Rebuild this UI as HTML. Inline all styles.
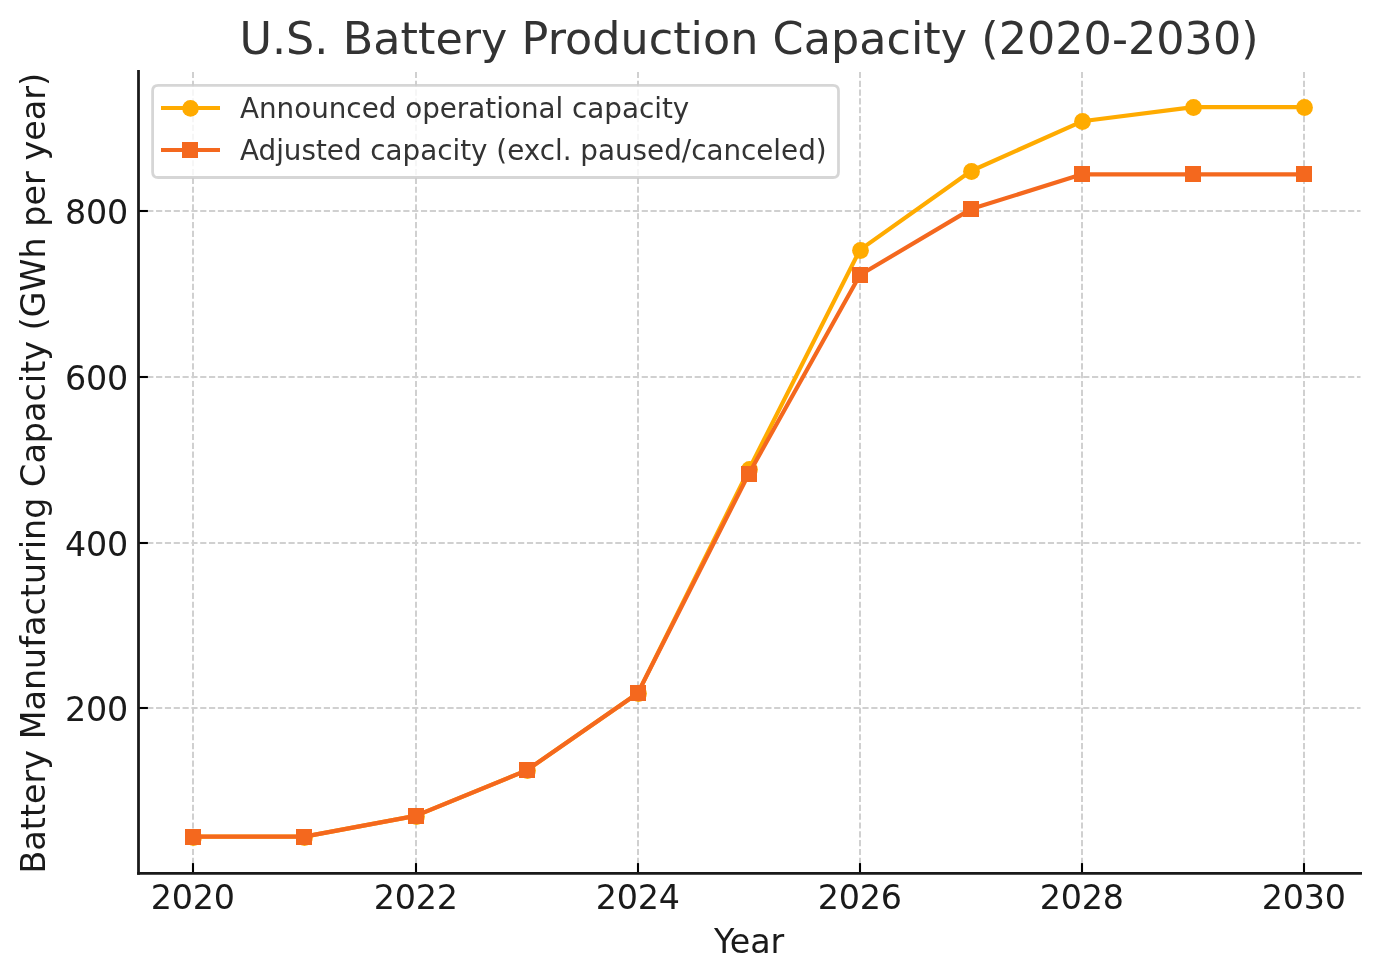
<!DOCTYPE html>
<html lang="en">
<head>
<meta charset="utf-8">
<title>U.S. Battery Production Capacity (2020-2030)</title>
<style>
html,body{margin:0;padding:0;background:#fff;}
body{width:1380px;height:980px;overflow:hidden;}
svg{display:block;}
text{font-family:"DejaVu Sans","Liberation Sans",sans-serif;}
.tick{font-size:33.33px;fill:#1a1a1a;letter-spacing:-0.15px;}
.lab{font-size:33.33px;fill:#1a1a1a;letter-spacing:-0.12px;}
.title{font-size:44.44px;fill:#333333;letter-spacing:0.04px;}
.leg{font-size:27.78px;fill:#333333;}
</style>
</head>
<body>
<svg width="1380" height="980" viewBox="0 0 1380 980">
<rect width="1380" height="980" fill="#ffffff"/>
<g stroke="#d0d0d0" stroke-width="2" stroke-dasharray="6.17 2.66" fill="none">
<line x1="193" y1="872.75" x2="193" y2="71.4"/>
<line x1="416" y1="872.75" x2="416" y2="71.4"/>
<line x1="638" y1="872.75" x2="638" y2="71.4"/>
<line x1="860" y1="872.75" x2="860" y2="71.4"/>
<line x1="1082" y1="872.75" x2="1082" y2="71.4"/>
<line x1="1304" y1="872.75" x2="1304" y2="71.4"/>
<line x1="138.4" y1="708" x2="1360.5" y2="708"/>
<line x1="138.4" y1="543" x2="1360.5" y2="543"/>
<line x1="138.4" y1="377" x2="1360.5" y2="377"/>
<line x1="138.4" y1="211" x2="1360.5" y2="211"/>
</g>
<polyline points="193.35,836.61 304.45,836.61 415.55,815.90 526.65,770.34 637.75,693.31 748.85,469.67 859.95,249.84 971.05,170.98 1082.15,121.29 1193.25,107.12 1304.35,107.12" fill="none" stroke="#ffab00" stroke-width="4.17" stroke-linejoin="round" stroke-linecap="butt"/>
<circle cx="193.5" cy="837.5" r="8.4" fill="#ffab00"/>
<circle cx="304.5" cy="837.5" r="8.4" fill="#ffab00"/>
<circle cx="416.5" cy="816.5" r="8.4" fill="#ffab00"/>
<circle cx="527.5" cy="770.5" r="8.4" fill="#ffab00"/>
<circle cx="638.5" cy="693.5" r="8.4" fill="#ffab00"/>
<circle cx="749.5" cy="469.5" r="8.4" fill="#ffab00"/>
<circle cx="860.5" cy="250.5" r="8.4" fill="#ffab00"/>
<circle cx="971.5" cy="171.5" r="8.4" fill="#ffab00"/>
<circle cx="1082.5" cy="121.5" r="8.4" fill="#ffab00"/>
<circle cx="1193.5" cy="107.5" r="8.4" fill="#ffab00"/>
<circle cx="1304.5" cy="107.5" r="8.4" fill="#ffab00"/>
<polyline points="193.35,836.61 304.45,836.61 415.55,815.90 526.65,770.34 637.75,693.31 748.85,473.81 859.95,275.02 971.05,209.09 1082.15,174.30 1193.25,174.30 1304.35,174.30" fill="none" stroke="#f4681e" stroke-width="4.17" stroke-linejoin="round" stroke-linecap="butt"/>
<rect x="185" y="829" width="16" height="16" fill="#f4681e"/>
<rect x="296" y="829" width="16" height="16" fill="#f4681e"/>
<rect x="408" y="808" width="16" height="16" fill="#f4681e"/>
<rect x="519" y="762" width="16" height="16" fill="#f4681e"/>
<rect x="630" y="685" width="16" height="16" fill="#f4681e"/>
<rect x="741" y="466" width="16" height="16" fill="#f4681e"/>
<rect x="852" y="267" width="16" height="16" fill="#f4681e"/>
<rect x="963" y="201" width="16" height="16" fill="#f4681e"/>
<rect x="1074" y="166" width="16" height="16" fill="#f4681e"/>
<rect x="1185" y="166" width="16" height="16" fill="#f4681e"/>
<rect x="1296" y="166" width="16" height="16" fill="#f4681e"/>
<g stroke="#000000" stroke-width="2.1" fill="none">
<line x1="193" y1="873.4" x2="193" y2="863.1"/>
<line x1="416" y1="873.4" x2="416" y2="863.1"/>
<line x1="638" y1="873.4" x2="638" y2="863.1"/>
<line x1="860" y1="873.4" x2="860" y2="863.1"/>
<line x1="1082" y1="873.4" x2="1082" y2="863.1"/>
<line x1="1304" y1="873.4" x2="1304" y2="863.1"/>
<line x1="138.5" y1="708" x2="147.9" y2="708"/>
<line x1="138.5" y1="543" x2="147.9" y2="543"/>
<line x1="138.5" y1="377" x2="147.9" y2="377"/>
<line x1="138.5" y1="211" x2="147.9" y2="211"/>
</g>
<g stroke="#1a1a1a" stroke-width="2.78" fill="none" stroke-linecap="butt">
<line x1="138.5" y1="70" x2="138.5" y2="874.79"/>
<line x1="137.11" y1="873.4" x2="1362" y2="873.4"/>
</g>
<text class="tick" x="192.8" y="908.8" text-anchor="middle">2020</text>
<text class="tick" x="415.8" y="908.8" text-anchor="middle">2022</text>
<text class="tick" x="637.8" y="908.8" text-anchor="middle">2024</text>
<text class="tick" x="859.8" y="908.8" text-anchor="middle">2026</text>
<text class="tick" x="1081.8" y="908.8" text-anchor="middle">2028</text>
<text class="tick" x="1303.8" y="908.8" text-anchor="middle">2030</text>
<text class="tick" style="letter-spacing:-0.3px" x="127.8" y="720.7" text-anchor="end">200</text>
<text class="tick" style="letter-spacing:-0.3px" x="127.8" y="555.7" text-anchor="end">400</text>
<text class="tick" style="letter-spacing:-0.3px" x="127.8" y="389.7" text-anchor="end">600</text>
<text class="tick" style="letter-spacing:-0.3px" x="127.8" y="223.7" text-anchor="end">800</text>
<text class="lab" x="749" y="953.2" text-anchor="middle">Year</text>
<text class="lab" style="letter-spacing:0.035px" transform="translate(44.5 473.3) rotate(-90)" text-anchor="middle">Battery Manufacturing Capacity (GWh per year)</text>
<text class="title" x="749" y="54" text-anchor="middle">U.S. Battery Production Capacity (2020-2030)</text>
<path d="M158.16,85.40 L832.94,85.40 Q838.50,85.40 838.50,90.96 L838.50,171.94 Q838.50,177.50 832.94,177.50 L158.16,177.50 Q152.60,177.50 152.60,171.94 L152.60,90.96 Q152.60,85.40 158.16,85.40 Z" fill="#ffffff" fill-opacity="0.8" stroke="#cccccc" stroke-opacity="0.8" stroke-width="2.78" stroke-linejoin="miter"/>
<line x1="161" y1="108" x2="220" y2="108" stroke="#ffab00" stroke-width="4.1"/>
<circle cx="190.5" cy="108.4" r="8.3" fill="#ffab00"/>
<line x1="161" y1="150" x2="220" y2="150" stroke="#f4681e" stroke-width="4.1"/>
<rect x="182" y="142" width="16" height="16" fill="#f4681e"/>
<text class="leg" x="240" y="117.5">Announced operational capacity</text>
<text class="leg" x="240" y="159.5">Adjusted capacity (excl. paused/canceled)</text>
</svg>
</body>
</html>
